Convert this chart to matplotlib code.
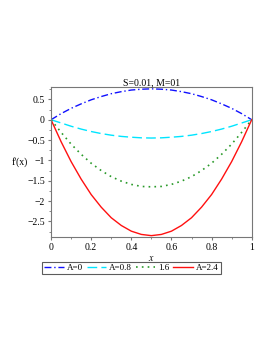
import matplotlib
matplotlib.use("Agg")
import matplotlib.pyplot as plt
from matplotlib.ticker import MultipleLocator

plt.rcParams['font.family'] = ['Liberation Serif', 'DejaVu Serif']
plt.rcParams['mathtext.fontset'] = 'stix'

# values at x = 0, 0.05, ..., 1
x = [0.0, 0.05, 0.1, 0.15, 0.2, 0.25, 0.3, 0.35, 0.4, 0.45, 0.5,
     0.55, 0.6, 0.65, 0.7, 0.75, 0.8, 0.85, 0.9, 0.95, 1.0]
a0 = [0.0, 0.15, 0.28, 0.39, 0.49, 0.57, 0.64, 0.69, 0.73, 0.75, 0.76,
      0.75, 0.73, 0.69, 0.64, 0.57, 0.49, 0.39, 0.28, 0.15, 0.0]
a08 = [0.0, -0.08, -0.16, -0.23, -0.29, -0.34, -0.38, -0.41, -0.43, -0.445, -0.45,
       -0.445, -0.43, -0.41, -0.38, -0.34, -0.29, -0.23, -0.16, -0.08, 0.0]
a16 = [0.0, -0.31, -0.6, -0.85, -1.07, -1.25, -1.4, -1.51, -1.59, -1.64, -1.65,
       -1.64, -1.59, -1.51, -1.4, -1.25, -1.07, -0.85, -0.6, -0.31, 0.0]
a24 = [0.0, -0.54, -1.03, -1.46, -1.84, -2.15, -2.41, -2.6, -2.74, -2.82, -2.85,
       -2.82, -2.74, -2.6, -2.41, -2.15, -1.84, -1.46, -1.03, -0.54, 0.0]

fig = plt.figure(figsize=(2.73, 3.53), dpi=100)
ax = fig.add_axes([0.187, 0.329, 0.735, 0.424])

ax.plot(x, a0, color='#1010ff', linestyle=(0, (5, 2, 1, 2)), linewidth=1, label='A=0')
ax.plot(x, a08, color='#00e5ff', linestyle=(0, (7, 3)), linewidth=1, label='A=0.8')
ax.plot(x, a16, color='#2a9a2a', linestyle=(0, (1, 2.5)), linewidth=1.2, label='1.6')
ax.plot(x, a24, color='#ff1010', linestyle='-', linewidth=1, label='A=2.4')

ax.xaxis.set_major_locator(MultipleLocator(0.2))
ax.xaxis.set_minor_locator(MultipleLocator(0.1))
ax.yaxis.set_major_locator(MultipleLocator(0.5))
ax.yaxis.set_minor_locator(MultipleLocator(0.25))

def fmt(v):
    s = ('%g' % v)
    return s.replace('-', '\u2212')

ax.set_xlim(0, 1)
ax.set_ylim(-2.88, 0.8)
ax.set_xticks(ax.get_xticks())
ax.set_xticklabels([fmt(v) for v in ax.get_xticks()])
ax.set_yticks(ax.get_yticks())
ax.set_yticklabels([fmt(v) for v in ax.get_yticks()])
ax.set_xlim(0, 1)
ax.set_ylim(-2.88, 0.8)

ax.tick_params(which='both', direction='out', labelsize=7, color='#777777', pad=2)
ax.tick_params(which='major', length=2.5)
ax.tick_params(which='minor', length=1.5)
for s in ax.spines.values():
    s.set_color('#777777')
    s.set_linewidth(0.8)

ax.set_title('S=0.01, M=01', fontsize=7, pad=1)
ax.set_xlabel('$x$', fontsize=7, labelpad=1)
ax.set_ylabel("f'(x)", fontsize=7, rotation=0, labelpad=5, va='center')

leg = ax.legend(loc='upper center', bbox_to_anchor=(0.40, -0.165), ncol=4,
                fontsize=6.5, frameon=True, fancybox=False, handlelength=2.2,
                handletextpad=0.3, columnspacing=0.4, borderpad=0.25,
                borderaxespad=0)
leg.get_frame().set_edgecolor('#333333')
leg.get_frame().set_linewidth(0.8)

fig.savefig('out.png', dpi=100)
